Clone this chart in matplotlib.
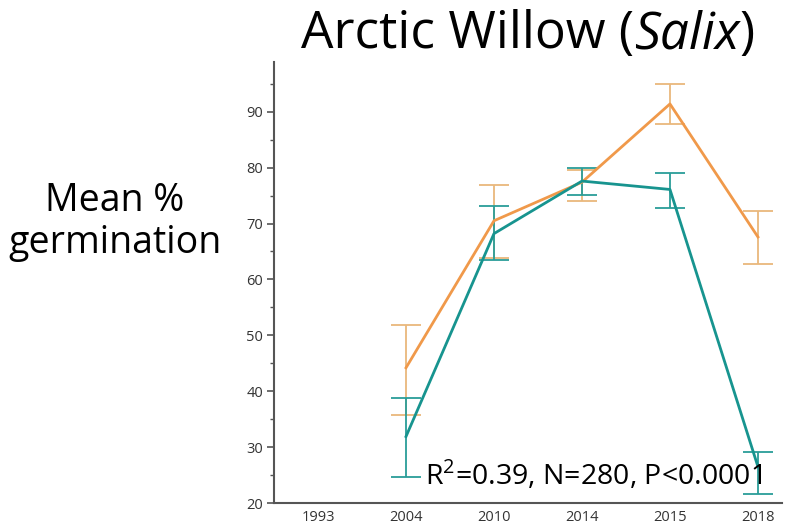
import numpy as np
import matplotlib
matplotlib.use("Agg")
from matplotlib import pyplot as plt
from matplotlib.ticker import MultipleLocator

years = ['1993', '2004', '2010', '2014', '2015', '2018']

# germination means and error bar limits, 2004 onward (no data for 1993)
orange_mean = [44.2, 70.5, 77.4, 91.4, 67.6]
orange_hi = [51.8, 76.9, 79.6, 94.9, 72.2]
orange_lo = [35.8, 63.8, 74.1, 87.8, 62.8]

teal_mean = [31.9, 68.2, 77.6, 76.1, 26.5]
teal_hi = [38.7, 73.1, 80.0, 79.1, 29.2]
teal_lo = [24.7, 63.4, 75.1, 72.8, 21.7]

stats_text = 'R$^2$=0.39, N=280, P<0.0001'

plt.rcParams['font.family'] = ['Open Sans', 'DejaVu Sans']
plt.rcParams['mathtext.fontset'] = 'custom'
plt.rcParams['mathtext.rm'] = 'Open Sans'

fig = plt.figure(figsize=(7.92, 5.31), dpi=100)
ax = fig.add_axes([0.346, 0.0527, 0.641, 0.8305])

x = np.arange(1, len(years))

def draw(mean, hi, lo, line_col, err_col):
    mean = np.array(mean)
    yerr = [mean - np.array(lo), np.array(hi) - mean]
    ax.errorbar(x, mean, yerr=yerr, fmt='none', ecolor=err_col,
                elinewidth=1.3, capsize=11, capthick=1.3, zorder=2)
    ax.plot(x, mean, color=line_col, lw=2.0, zorder=3)

draw(orange_mean, orange_hi, orange_lo, '#f0994a', '#e9b87c')
draw(teal_mean, teal_hi, teal_lo, '#17948f', '#2a9d98')

ax.set_xlim(-0.5, 5.27)
ax.set_ylim(20, 98.9)
ax.set_xticks(range(len(years)))
ax.set_xticklabels(years)
ax.yaxis.set_major_locator(MultipleLocator(10))
ax.yaxis.set_minor_locator(MultipleLocator(5))

for side in ['top', 'right']:
    ax.spines[side].set_visible(False)
for side in ['left', 'bottom']:
    ax.spines[side].set_color('#555555')
    ax.spines[side].set_linewidth(1.5)

ax.tick_params(axis='y', which='major', length=5, width=1.2, color='#555555',
               labelsize=10.5, labelcolor='#333333', pad=3)
ax.tick_params(axis='y', which='minor', length=3, width=1.0, color='#555555')
ax.tick_params(axis='x', length=0, labelsize=10.5, labelcolor='#333333', pad=5)

ax.text(0.297, 0.041, stats_text, transform=ax.transAxes, ha='left',
        va='baseline', fontsize=20.5, color='black', zorder=5)

# title with the genus in italics
title_y = 0.935
fig.canvas.draw()
parts = [('Arctic Willow (', 'normal'), ('Salix', 'italic'), (')', 'normal')]
texts = []
xpos = 0.0
for s, st in parts:
    t = fig.text(xpos, title_y, s, ha='left', va='center', fontsize=37,
                 style=st, color='black')
    fig.canvas.draw()
    w = t.get_window_extent().width / fig.bbox.width
    texts.append((t, w))
    xpos += w
left = 0.667 - xpos / 2
for t, w in texts:
    t.set_x(left)
    left += w

fig.text(0.145, 0.582, 'Mean %\ngermination', ha='center', va='center',
         fontsize=27, linespacing=1.15, color='black')

fig.savefig('out.png', dpi=100)
